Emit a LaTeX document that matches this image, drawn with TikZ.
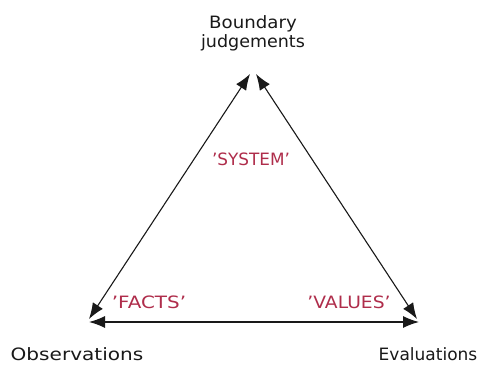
\documentclass[tikz,border=0pt]{standalone}
\usepackage{fontspec}
\usepackage{graphicx}
\setmainfont{DejaVu Sans}
\usetikzlibrary{arrows.meta}
\definecolor{labred}{RGB}{175,45,75}
\definecolor{ink}{RGB}{25,25,25}
\newcommand{\wide}[2]{\scalebox{#1}[1]{#2}}
\tikzset{
  conn/.style={draw=ink, line width=1.1pt, {Latex[length=16pt,width=12pt]}-{Latex[length=16pt,width=12pt]}},
  corner/.style={font=\fontsize{17}{19}\selectfont, text=ink, inner sep=0pt, align=center},
  tag/.style={font=\fontsize{17}{19}\selectfont, text=labred, inner sep=0pt}
}
\begin{document}
\begin{tikzpicture}[x=1pt,y=-1pt]
\useasboundingbox (0,0) rectangle (483,367);
\fill[white] (0,0) rectangle (483,367);
% vertices
\coordinate (topL) at (250,74);
\coordinate (topR) at (256,74);
\coordinate (botL) at (89,319);
\coordinate (botR) at (417,319);
\coordinate (baseL) at (89,322);
\coordinate (baseR) at (419,322);
% connectors
\draw[conn] (topL) -- (botL);
\draw[conn] (topR) -- (botR);
\draw[conn] (baseL) -- (baseR);
% labels
\node[corner] (bj) at (253,33) {\wide{1.07}{Boundary}\\[0pt]\wide{1.03}{judgements}};
\node[corner] (obs) at (77,354) {\wide{1.18}{Observations}};
\node[corner] (eva) at (428,354) {\wide{1.0}{Evaluations}};
\node[tag] (sys) at (251,159) {\wide{0.99}{'SYSTEM'}};
\node[tag] (fac) at (149,302) {\wide{1.17}{'FACTS'}};
\node[tag] (val) at (349,302) {\wide{1.1}{'VALUES'}};
\end{tikzpicture}
\end{document}
